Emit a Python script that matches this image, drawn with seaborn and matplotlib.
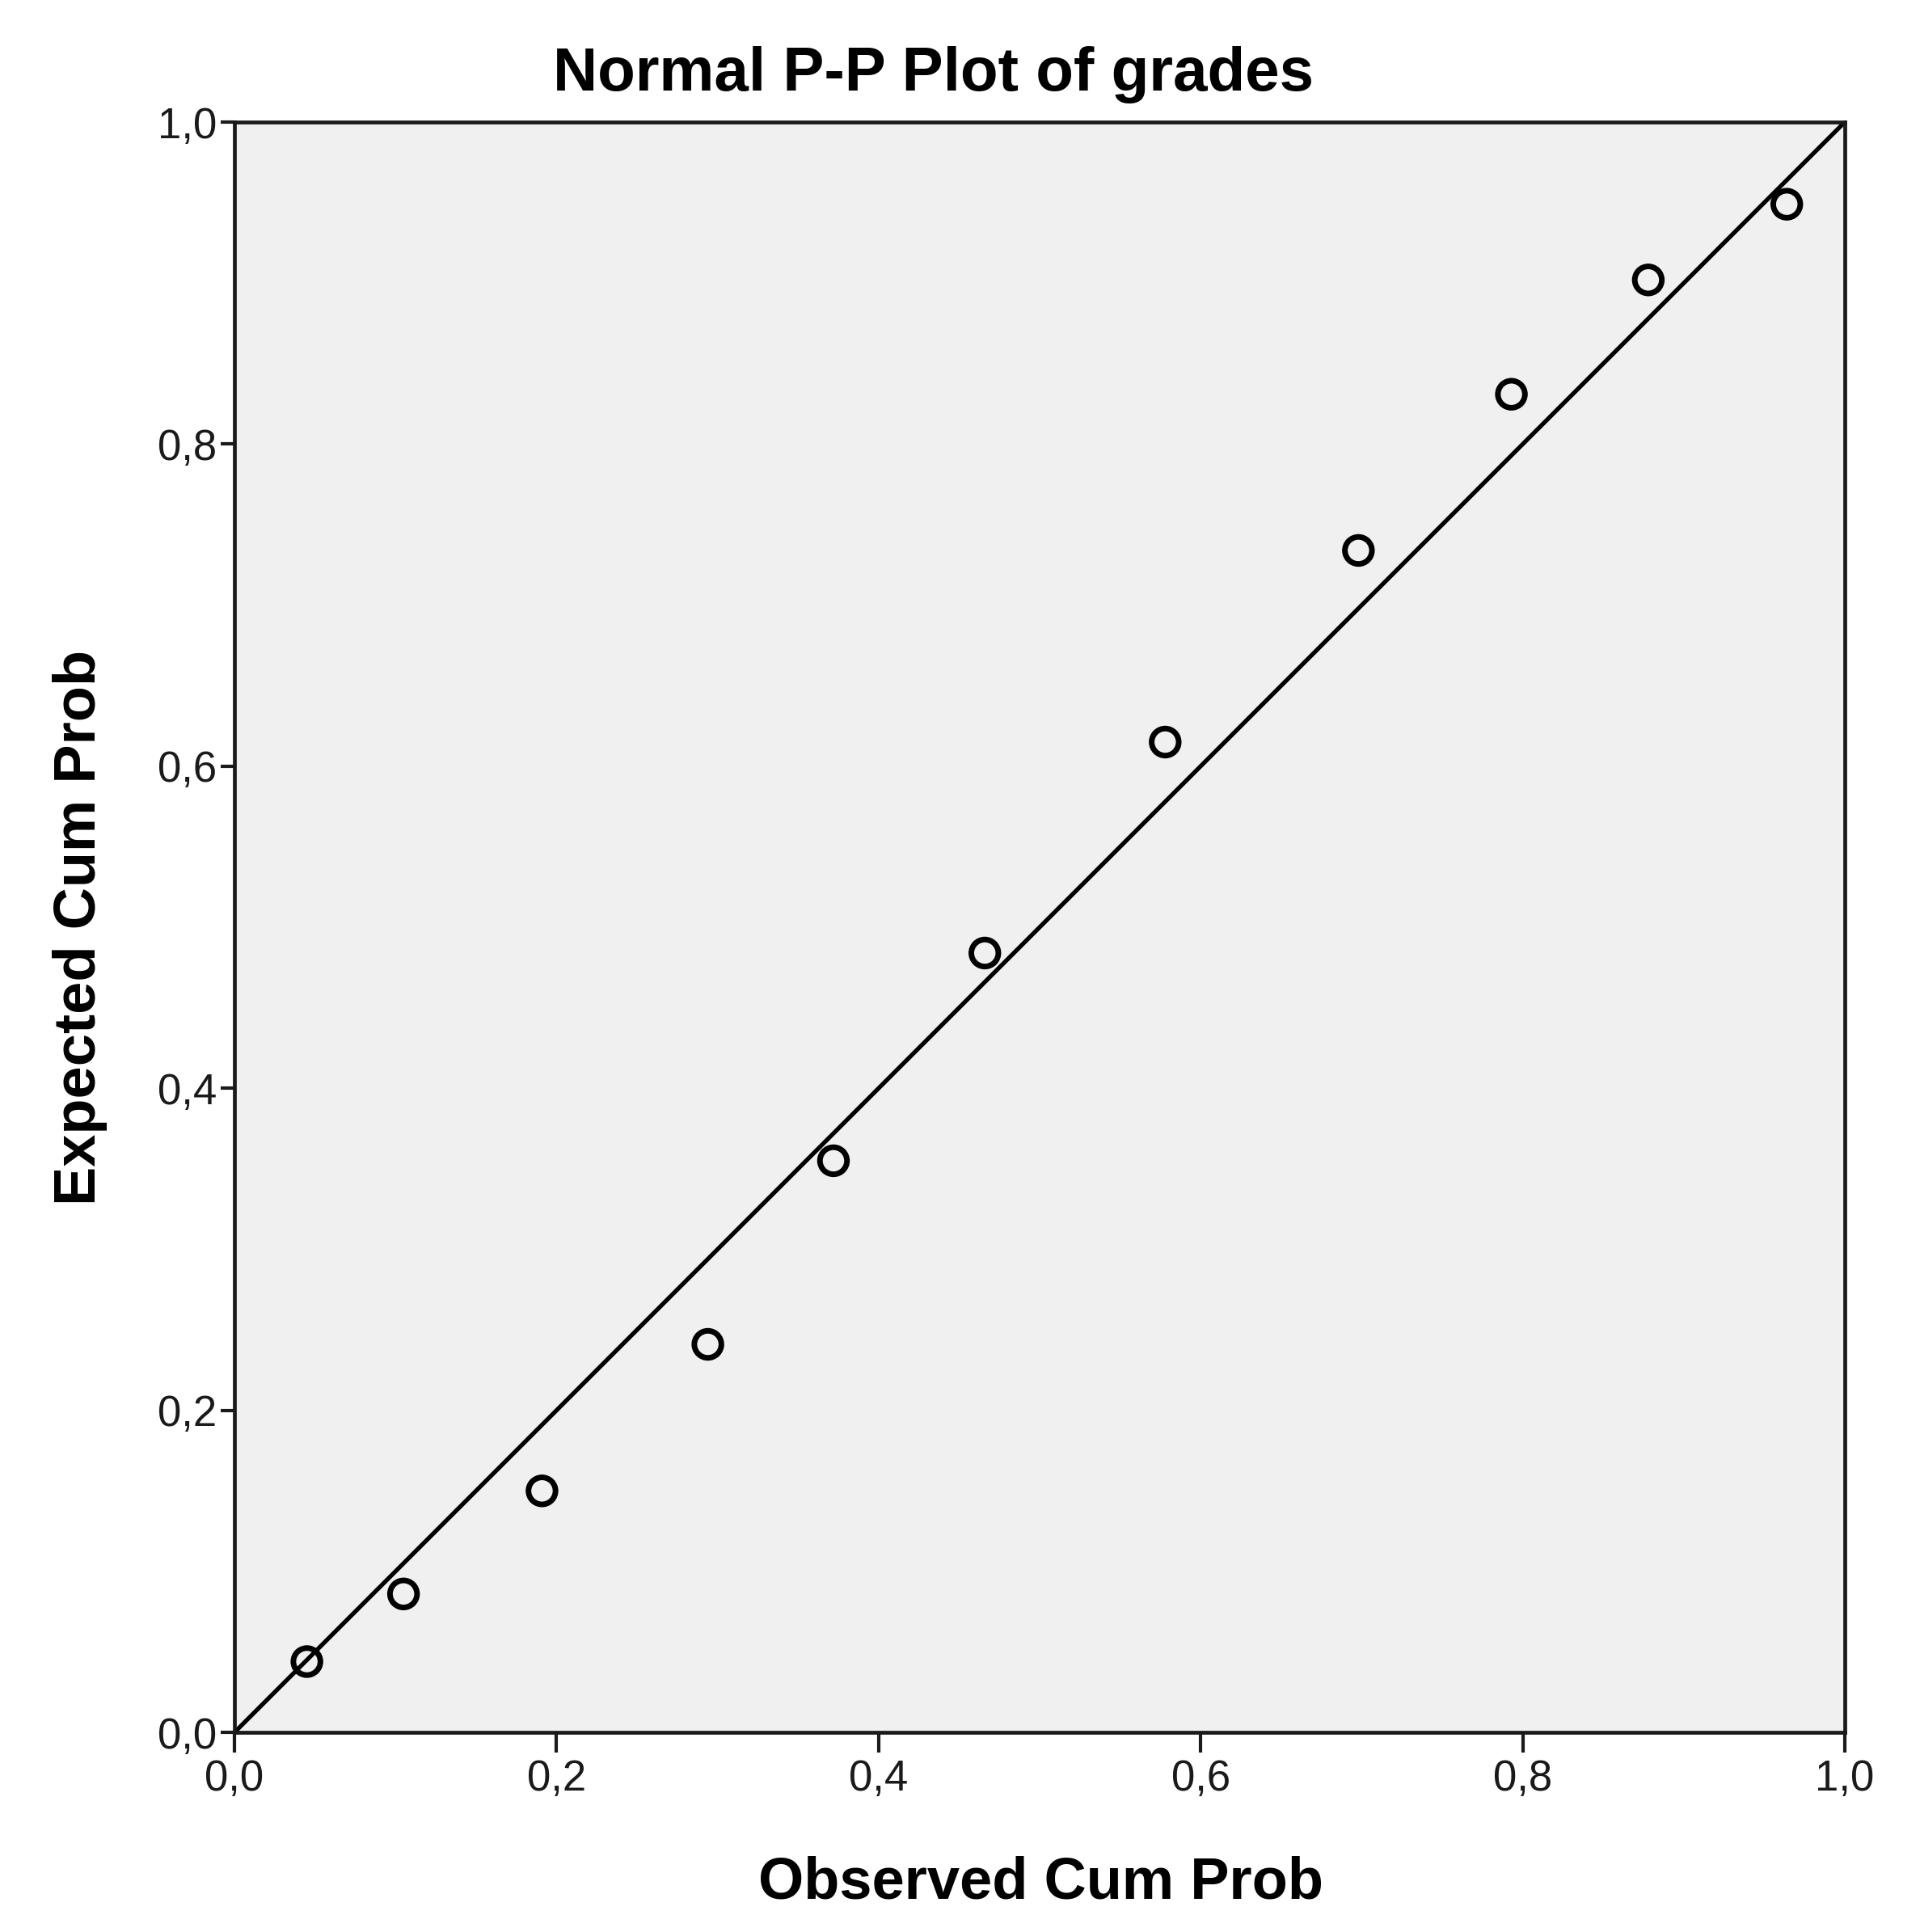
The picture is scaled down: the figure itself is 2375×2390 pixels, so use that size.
import matplotlib
matplotlib.use("Agg")
import matplotlib.pyplot as plt
import seaborn as sns
import pandas as pd

# observed vs expected cumulative probabilities
observed = [0.045, 0.105, 0.191, 0.294, 0.372, 0.466, 0.578, 0.698, 0.793, 0.878, 0.964]
expected = [0.044, 0.086, 0.150, 0.241, 0.355, 0.484, 0.615, 0.734, 0.831, 0.902, 0.949]
diag = [0.0, 1.0]
ticks = [0.0, 0.2, 0.4, 0.6, 0.8, 1.0]
tick_labels = ["0,0", "0,2", "0,4", "0,6", "0,8", "1,0"]

sns.set_style("white")
plt.rcParams["font.family"] = ["Liberation Sans", "DejaVu Sans"]
plt.rcParams["text.color"] = "black"

df = pd.DataFrame({"Observed": observed, "Expected": expected})

fig = plt.figure(figsize=(23.75, 23.9), dpi=100)
ax = fig.add_axes([0.1221, 0.1033, 0.8387, 0.8335])
ax.set_facecolor("#f0f0f0")

ax.plot(diag, diag, color="black", linewidth=3.8, zorder=2)
sns.scatterplot(data=df, x="Observed", y="Expected", ax=ax, marker="o", s=580,
                facecolor="none", edgecolor="black", linewidth=5, zorder=3)

ax.set_xlim(0, 1)
ax.set_ylim(0, 1)
ax.set_xticks(ticks)
ax.set_yticks(ticks)
ax.set_xticklabels(tick_labels)
ax.set_yticklabels(tick_labels)
ax.tick_params(axis="x", direction="out", length=18, width=3, colors="#1a1a1a",
               labelsize=38, pad=6, bottom=True)
ax.tick_params(axis="y", direction="out", length=12, width=3, colors="#1a1a1a",
               labelsize=38, pad=4, left=True)
for sp in ax.spines.values():
    sp.set_linewidth(3.4)
    sp.set_color("#1a1a1a")
    sp.set_visible(True)

ax.set_xlabel("")
ax.set_ylabel("")
fig.text(0.5423, 0.0255, "Observed Cum Prob", ha="center", va="center",
         fontsize=52, fontweight="bold", color="black")
fig.text(0.0417, 0.520, "Expected Cum Prob", ha="center", va="center",
         rotation=90, fontsize=52, fontweight="bold", color="black")
fig.text(0.486, 0.9615, "Normal P-P Plot of grades", ha="center", va="center",
         fontsize=55, fontweight="bold", color="black")

fig.savefig("out.png", dpi=100)
